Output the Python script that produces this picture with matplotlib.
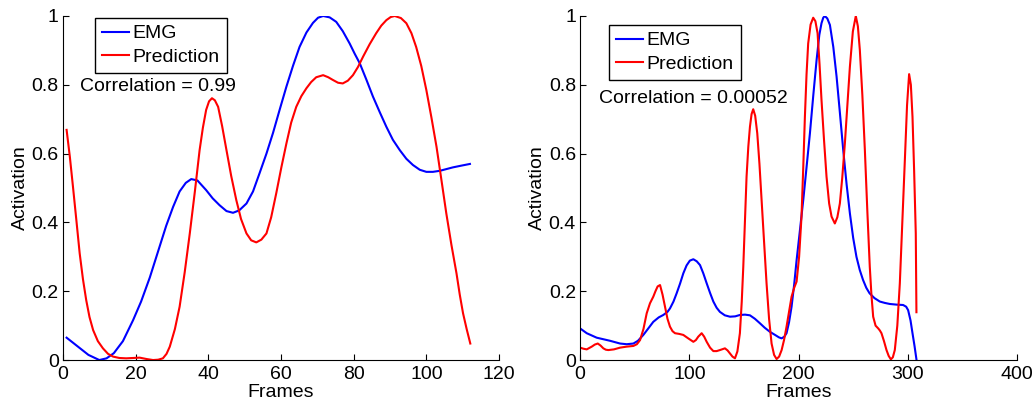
import matplotlib.pyplot as plt
import numpy as np

plt.rcParams['font.family'] = ['Liberation Sans', 'DejaVu Sans']

# left panel: frames 1..112
left_emg_x = [1, 4, 7, 10, 12, 14, 16.5, 19.3, 21.5, 23.9, 26, 28.4, 30.3, 32.1, 33.8, 35.3, 37, 39.4,
              41.2, 43.1, 45, 46.8, 48.5, 50.5, 52.3, 54.1, 56, 57.8, 59.7, 61.5, 63.3, 65.1, 67, 68.8,
              70.2, 71.6, 73.4, 75.2, 77, 78.9, 80.3, 81.7, 83.5, 85.3, 87.2, 89, 90.8, 92.7, 94.5,
              96.3, 98.2, 100, 101.8, 103.7, 105.5, 107.3, 109.6, 112]
left_emg_y = [0.065, 0.04, 0.015, 0.0, 0.005, 0.02, 0.055, 0.116, 0.17, 0.24, 0.31, 0.39, 0.445, 0.49,
              0.515, 0.526, 0.522, 0.494, 0.47, 0.45, 0.433, 0.428, 0.435, 0.455, 0.49, 0.543, 0.6,
              0.66, 0.73, 0.795, 0.855, 0.91, 0.952, 0.98, 0.995, 1.0, 0.996, 0.983, 0.956, 0.92,
              0.89, 0.862, 0.815, 0.766, 0.72, 0.678, 0.64, 0.61, 0.585, 0.567, 0.553, 0.547, 0.547,
              0.55, 0.555, 0.56, 0.565, 0.57]

left_pred_x = [1, 1.9, 2.75, 3.7, 4.6, 5.5, 6.4, 7.3, 8.3, 9.6, 11, 12.4, 13.8, 15.5, 17.4, 19.3, 21.1,
               23, 24.8, 26.2, 27.5, 28.5, 29.4, 30.8, 32.1, 33.5, 34.9, 36.3, 37.6, 38.5, 39.4, 40.2,
               41, 41.8, 42.7, 43.8, 45, 46.3, 47.7, 49, 50.5, 51.8, 53.2, 54.6, 56, 57.3, 58.7, 60.1,
               61.5, 62.8, 64.2, 65.6, 67, 68.3, 69.7, 71.6, 73, 74.3, 75.7, 77, 78.4, 79.8, 81.2,
               82.6, 84.4, 86.2, 87.6, 89, 90.2, 91.3, 93, 94.5, 95.9, 97.2, 98.6, 100, 101.4, 102.8,
               104.2, 105.5, 106.9, 108.3, 109.2, 110.1, 111.1, 112.1]
left_pred_y = [0.669, 0.59, 0.504, 0.405, 0.31, 0.235, 0.174, 0.125, 0.087, 0.055, 0.034, 0.018, 0.01,
               0.006, 0.005, 0.006, 0.007, 0.003, 0.0, 0.001, 0.005, 0.018, 0.039, 0.09, 0.155, 0.255,
               0.368, 0.49, 0.61, 0.675, 0.727, 0.752, 0.761, 0.755, 0.736, 0.68, 0.61, 0.535, 0.465,
               0.41, 0.368, 0.348, 0.342, 0.35, 0.368, 0.415, 0.485, 0.56, 0.63, 0.69, 0.736, 0.767,
               0.79, 0.808, 0.822, 0.828, 0.822, 0.814, 0.806, 0.804, 0.812, 0.828, 0.852, 0.882,
               0.918, 0.95, 0.972, 0.988, 0.997, 1.0, 0.994, 0.979, 0.95, 0.91, 0.855, 0.785, 0.705,
               0.62, 0.52, 0.426, 0.335, 0.252, 0.19, 0.136, 0.09, 0.048]

# right panel: frames 0..308
right_emg_x = [0, 6.1, 15.2, 27.4, 36.6, 42.7, 48.8, 53, 57.9, 62, 67, 72, 76.2, 80, 82.3, 85.5, 88.4,
               91.5, 94.5, 97.5, 100.5, 103.7, 106.8, 109.8, 112.8, 115.9, 119, 122, 125, 128, 132.5,
               137.2, 142, 146.3, 151, 155.5, 160, 164.6, 169, 173.8, 179, 182, 184.5, 187, 189, 191.3,
               193.6, 196, 198.2, 201, 204.3, 207.3, 210.4, 213.5, 216.5, 219, 221, 222.6, 224, 226.3,
               228.7, 231.8, 234.8, 237.8, 240.9, 244, 247, 250, 253, 256, 259, 262, 265, 269.5,
               274.4, 279, 283.5, 290, 295.7, 298.5, 300.3, 302.5, 304.3, 306.2, 308]
right_emg_y = [0.092, 0.078, 0.065, 0.056, 0.048, 0.046, 0.048, 0.056, 0.073, 0.09, 0.111, 0.124, 0.131,
               0.14, 0.15, 0.17, 0.194, 0.222, 0.252, 0.275, 0.289, 0.293, 0.287, 0.276, 0.252, 0.223,
               0.195, 0.17, 0.152, 0.14, 0.13, 0.126, 0.127, 0.131, 0.132, 0.13, 0.12, 0.107, 0.094,
               0.082, 0.072, 0.066, 0.063, 0.068, 0.078, 0.11, 0.155, 0.22, 0.29, 0.37, 0.465, 0.56,
               0.659, 0.77, 0.872, 0.945, 0.979, 0.995, 1.0, 0.993, 0.974, 0.91, 0.824, 0.72, 0.61,
               0.51, 0.426, 0.355, 0.3, 0.262, 0.233, 0.21, 0.194, 0.18, 0.17, 0.166, 0.163, 0.161,
               0.16, 0.155, 0.145, 0.115, 0.078, 0.04, 0.0]

right_pred_x = [0, 3, 6.1, 8.5, 10.7, 13.5, 16.2, 18.8, 21.3, 23.6, 25.9, 31, 36.6, 42.7, 48.8, 52,
                54.9, 58, 61, 64, 67, 69, 71, 73.2, 75.5, 77.7, 80, 82.3, 84.6, 86.9, 90.7, 94.5, 99,
                103.7, 106, 108.2, 111.3, 113.6, 115.9, 119, 122, 125, 128, 132.6, 135, 137.2, 139.5,
                141.8, 144, 146.3, 148, 149.4, 151, 152.4, 154, 155.5, 157, 158.5, 160.3, 162.2, 164.2,
                166.2, 168.5, 170.7, 173, 175.3, 177.6, 179.9, 182.2, 184.5, 186.7, 189, 191.3, 193.6,
                196, 198.2, 200.5, 202.7, 204.3, 205.8, 207.3, 208.8, 211, 213.4, 215.4, 217.4, 219.2,
                221, 223.3, 225.6, 228, 230.2, 233.2, 235.5, 237.8, 240, 242.4, 244.7, 247, 249.7,
                252.4, 254.3, 256.1, 258.4, 260.7, 263, 265.2, 266.7, 268.3, 270.5, 272.9, 274.4,
                275.9, 278.2, 280.5, 282.5, 284.5, 286.3, 288.1, 290.4, 292.7, 295, 297.3, 299.3,
                301.2, 302.8, 304.3, 305.8, 307.3, 307.9]
right_pred_y = [0.036, 0.033, 0.031, 0.035, 0.039, 0.045, 0.048, 0.042, 0.034, 0.03, 0.029, 0.031,
                0.036, 0.039, 0.041, 0.046, 0.058, 0.09, 0.136, 0.165, 0.184, 0.2, 0.214, 0.218, 0.19,
                0.155, 0.12, 0.097, 0.084, 0.078, 0.076, 0.073, 0.063, 0.053, 0.058, 0.068, 0.078,
                0.068, 0.053, 0.036, 0.026, 0.026, 0.029, 0.034, 0.028, 0.019, 0.01, 0.005, 0.025,
                0.078, 0.17, 0.271, 0.41, 0.533, 0.62, 0.678, 0.715, 0.729, 0.71, 0.659, 0.57, 0.465,
                0.34, 0.223, 0.12, 0.048, 0.015, 0.003, 0.01, 0.029, 0.058, 0.097, 0.14, 0.184, 0.21,
                0.228, 0.3, 0.417, 0.56, 0.707, 0.83, 0.92, 0.975, 0.995, 0.985, 0.95, 0.86, 0.756,
                0.64, 0.533, 0.455, 0.417, 0.397, 0.415, 0.455, 0.53, 0.63, 0.74, 0.853, 0.955, 1.0,
                0.97, 0.901, 0.77, 0.61, 0.43, 0.271, 0.19, 0.126, 0.1, 0.092, 0.086, 0.078, 0.055,
                0.029, 0.012, 0.002, 0.008, 0.029, 0.1, 0.223, 0.4, 0.581, 0.74, 0.831, 0.8, 0.707,
                0.55, 0.368, 0.139]

corr_texts = ["Correlation = 0.99", "Correlation = 0.00052"]


def style_axes(ax, xmax, xstep):
    ax.spines['top'].set_visible(False)
    ax.spines['right'].set_visible(False)
    ax.set_xlim(0, xmax)
    ax.set_ylim(0, 1)
    ax.set_xticks(np.arange(0, xmax + 1, xstep))
    ax.set_yticks([0, 0.2, 0.4, 0.6, 0.8, 1])
    ax.set_yticklabels(['0', '0.2', '0.4', '0.6', '0.8', '1'])
    ax.tick_params(direction='in', length=4, labelsize=14)
    ax.tick_params(axis='x', pad=4)
    ax.tick_params(axis='y', pad=3)
    ax.set_xlabel("Frames", fontsize=14, labelpad=1)
    ax.set_ylabel("Activation", fontsize=14, labelpad=2)


fig = plt.figure(figsize=(10.34, 4.05), dpi=100)
ax1 = fig.add_axes([0.0609, 0.111, 0.4217, 0.8495])
ax2 = fig.add_axes([0.561, 0.111, 0.4226, 0.8495])

leg_kw = dict(loc='upper left', fontsize=14, fancybox=False, edgecolor='black', framealpha=1,
              handlelength=1.4, borderpad=0.35, labelspacing=0.3, handletextpad=0.2,
              borderaxespad=0)

ax1.plot(left_emg_x, left_emg_y, color='#0000ff', linewidth=1.5, label="EMG")
ax1.plot(left_pred_x, left_pred_y, color='#ff0000', linewidth=1.5, label="Prediction")
style_axes(ax1, 120, 20)
ax1.legend(bbox_to_anchor=(0.073, 0.994), **leg_kw)
ax1.text(0.04, 0.795, corr_texts[0], transform=ax1.transAxes, fontsize=14, va='center')

ax2.plot(right_emg_x, right_emg_y, color='#0000ff', linewidth=1.5, label="EMG")
ax2.plot(right_pred_x, right_pred_y, color='#ff0000', linewidth=1.5, label="Prediction")
style_axes(ax2, 400, 100)
ax2.legend(bbox_to_anchor=(0.066, 0.974), **leg_kw)
ax2.text(0.043, 0.76, corr_texts[1], transform=ax2.transAxes, fontsize=14, va='center')

fig.savefig("out.png", dpi=100)
plt.close()
